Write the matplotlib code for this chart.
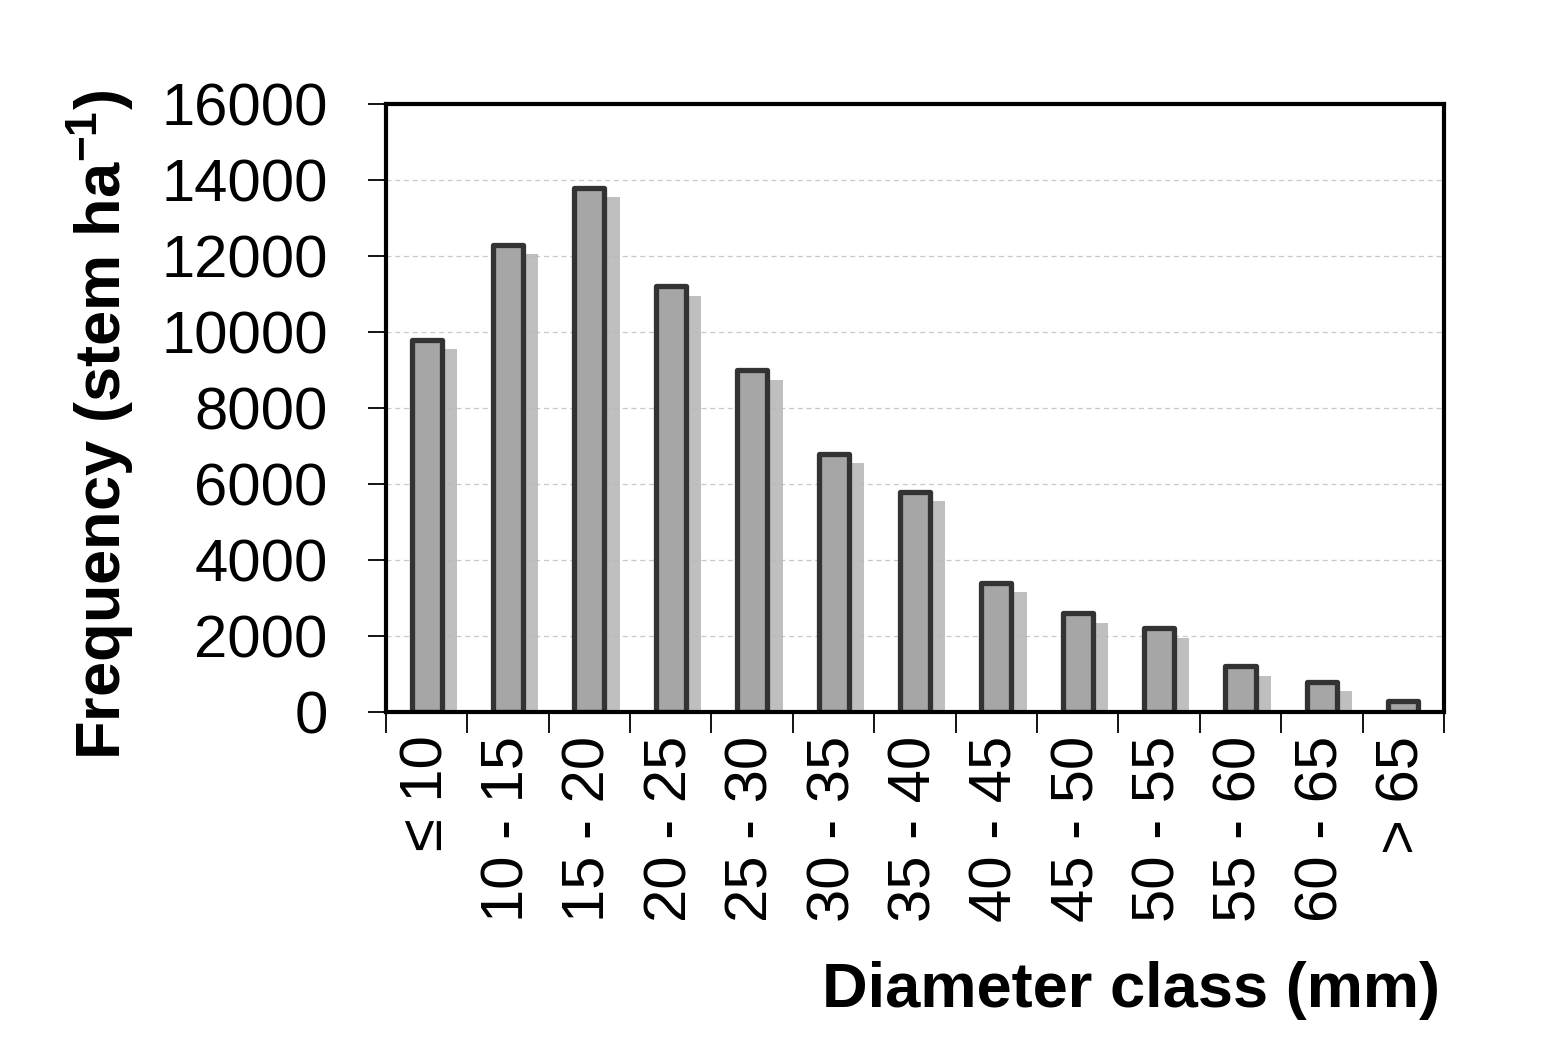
import matplotlib
matplotlib.use('Agg')
import matplotlib.pyplot as plt
import matplotlib.patheffects as pe
import numpy as np

classes = ['≤ 10', '10 - 15', '15 - 20', '20 - 25', '25 - 30', '30 - 35', '35 - 40',
           '40 - 45', '45 - 50', '50 - 55', '55 - 60', '60 - 65', '> 65']
freq = [9800, 12300, 13800, 11200, 9000, 6800, 5800, 3400, 2600, 2200, 1200, 800, 300]
yticks = [0, 2000, 4000, 6000, 8000, 10000, 12000, 14000, 16000]

plt.rcParams['font.family'] = ['Liberation Sans', 'DejaVu Sans']
plt.rcParams['mathtext.fontset'] = 'custom'
plt.rcParams['mathtext.bf'] = 'Liberation Sans:bold'
plt.rcParams['mathtext.rm'] = 'Liberation Sans'

fig = plt.figure(figsize=(15.42, 10.62), dpi=100)
ax = fig.add_axes([0.2503, 0.3296, 0.6861, 0.5725])

x = np.arange(len(classes))
bars = ax.bar(x, freq, width=0.37, color='#a6a6a6', edgecolor='#333333',
              linewidth=3.8, zorder=3)
for b in bars:
    b.set_joinstyle('round')
    b.set_path_effects([pe.SimplePatchShadow(offset=(11, -7), shadow_rgbFace='#b8b8b8', alpha=0.9),
                        pe.Normal()])

ax.set_xlim(-0.5, len(classes) - 0.5)
ax.set_ylim(0, 16000)
ax.set_yticks(yticks)
ax.set_yticklabels([str(v) for v in yticks])
ax.grid(axis='y', linestyle=(0, (4, 3)), color='#c8c8c8', linewidth=0.9, zorder=0)

# ticks at class boundaries, labels at class centres
ax.set_xticks(np.arange(len(classes) + 1) - 0.5)
ax.set_xticklabels([])
ax.set_xticks(x, minor=True)
ax.set_xticklabels(classes, minor=True, rotation=90, va='top', ha='center')
ax.tick_params(axis='x', which='major', length=15, width=1.3, direction='out')
ax.tick_params(axis='x', which='minor', length=0, pad=17, labelsize=43)
ax.tick_params(axis='y', length=13, width=1.3, pad=29, labelsize=43)

for s in ax.spines.values():
    s.set_linewidth(3)
    s.set_zorder(5)

ax.set_ylabel(r'Frequency (stem ha$^{\mathbf{-1}}$)', fontsize=45.5, fontweight='bold')
ax.yaxis.set_label_coords(-0.27, 0.472)
ax.yaxis.label.set_va('center')

ax.set_xlabel('Diameter class (mm)', fontsize=45.5, fontweight='bold', loc='right')
ax.xaxis.set_label_coords(0.996, -0.458)
ax.xaxis.label.set_va('center')

fig.savefig('out.png', dpi=100)
